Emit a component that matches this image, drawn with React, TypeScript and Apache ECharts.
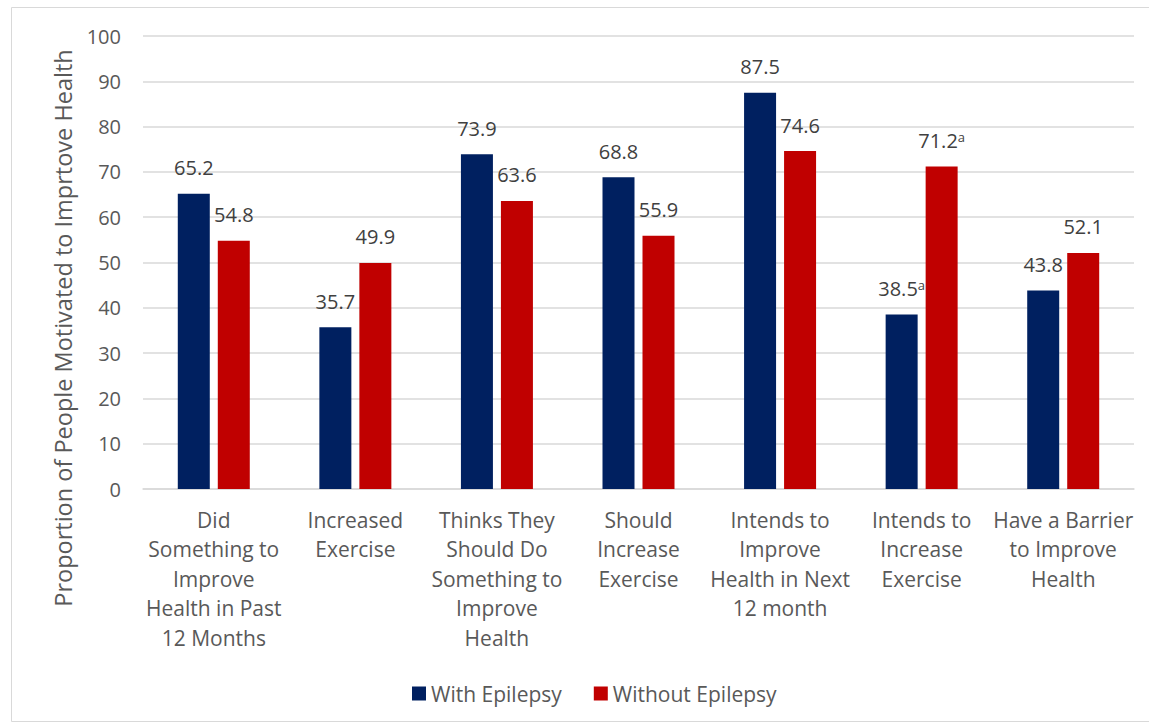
import React, { useEffect, useRef } from "react";
import * as echarts from "echarts";

const categories = [
  "Did\nSomething to\nImprove\nHealth in Past\n12 Months",
  "Increased\nExercise",
  "Thinks They\nShould Do\nSomething to\nImprove\nHealth",
  "Should\nIncrease\nExercise",
  "Intends to\nImprove\nHealth in Next\n12 month",
  "Intends to\nIncrease\nExercise",
  "Have a Barrier\nto Improve\nHealth",
];
const withEpilepsy = [65.2, 35.7, 73.9, 68.8, 87.5, 38.5, 43.8];
const withoutEpilepsy = [54.8, 49.9, 63.6, 55.9, 74.6, 71.2, 52.1];
// indices of values carrying the "a" footnote marker
const footnoteWith = [5];
const footnoteWithout = [5];
const yAxisTitle = "Proportion of People Motivated to Imprtove Health";

const FONT = "'Open Sans', Lato, sans-serif";

export default function App() {
  const ref = useRef<HTMLDivElement>(null);
  useEffect(() => {
    if (!ref.current) return;
    const chart = echarts.init(ref.current, null, { renderer: "svg" });
    const labelFor = (marks: number[]) => ({
      show: true,
      position: "top" as const,
      distance: 16,
      formatter: (p: any) =>
        marks.includes(p.dataIndex)
          ? `{v|${p.value.toFixed(1)}}{s|a}`
          : `{v|${p.value.toFixed(1)}}`,
      rich: {
        v: { fontSize: 20, color: "#404040", fontFamily: FONT },
        s: { fontSize: 13, color: "#404040", fontFamily: FONT, verticalAlign: "top" as const },
      },
    });
    chart.setOption({
      animation: false,
      textStyle: { fontFamily: FONT },
      graphic: [
        {
          type: "rect",
          shape: { x: 11.5, y: 7.5, width: 1160, height: 714 },
          style: { fill: "none", stroke: "#d9d9d9", lineWidth: 1 },
          silent: true,
        },
        {
          type: "text",
          x: 63,
          y: 328,
          rotation: Math.PI / 2,
          style: {
            text: yAxisTitle,
            fontSize: 23.5,
            fill: "#595959",
            fontFamily: FONT,
            align: "center",
            verticalAlign: "middle",
          },
          silent: true,
        },
      ],
      grid: { left: 143, right: 15, top: 36, bottom: 234 },
      legend: {
        left: 407,
        top: 678,
        itemWidth: 14,
        itemHeight: 14,
        itemGap: 32,
        icon: "rect",
        textStyle: { fontSize: 21, color: "#595959", fontFamily: FONT },
        data: ["With Epilepsy", "Without Epilepsy"],
      },
      xAxis: {
        type: "category",
        data: categories,
        axisLine: { lineStyle: { color: "#d9d9d9", width: 1.5 } },
        axisTick: { show: false },
        axisLabel: {
          interval: 0,
          fontSize: 21,
          color: "#595959",
          lineHeight: 29.5,
          margin: 16,
          fontFamily: FONT,
        },
      },
      yAxis: {
        type: "value",
        min: 0,
        max: 100,
        interval: 10,
        axisLine: { show: false },
        axisTick: { show: false },
        axisLabel: { fontSize: 20, color: "#595959", margin: 22, fontFamily: FONT },
        splitLine: { lineStyle: { color: "#d9d9d9", width: 1.5 } },
      },
      series: [
        {
          name: "With Epilepsy",
          type: "bar",
          data: withEpilepsy,
          barWidth: 32,
          barGap: "25%",
          itemStyle: { color: "#002060" },
          label: labelFor(footnoteWith),
        },
        {
          name: "Without Epilepsy",
          type: "bar",
          data: withoutEpilepsy,
          barWidth: 32,
          barGap: "25%",
          itemStyle: { color: "#C00000" },
          label: labelFor(footnoteWithout),
        },
      ],
    });
    return () => chart.dispose();
  }, []);
  return (
    <div
      ref={ref}
      style={{ position: "fixed", left: 0, top: 0, width: 1149, height: 723, background: "#fff" }}
    />
  );
}
